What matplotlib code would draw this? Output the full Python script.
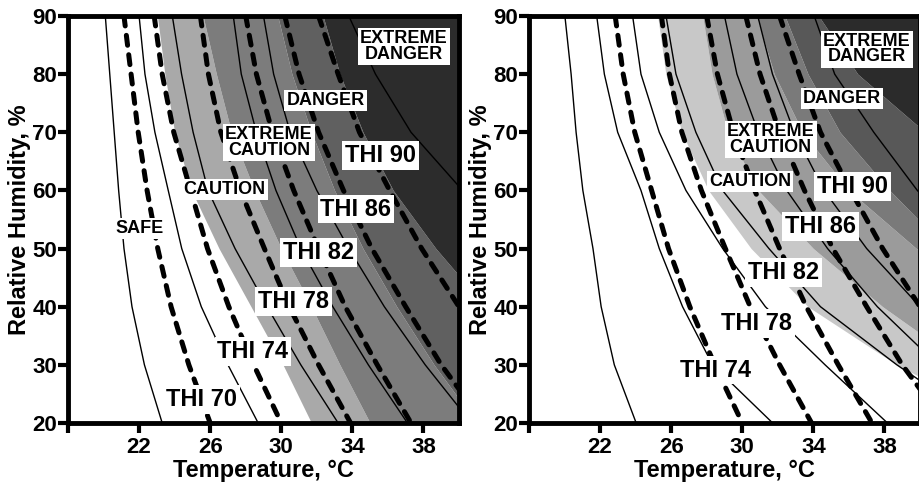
import matplotlib.pyplot as plt

plt.rcParams['font.family'] = ['Liberation Sans', 'DejaVu Sans']
plt.rcParams['font.weight'] = 'bold'

rh = [90, 80, 70, 60, 50, 40, 30, 20]

# THI isolines (dashed): temperature (°C) at each RH level
thi_70 = [21.15, 21.55, 21.95, 22.45, 23.05, 23.8, 24.8, 26.0]
thi_74 = [22.85, 23.3, 23.95, 24.9, 25.85, 27.05, 28.45, 30.0]
thi_78 = [25.45, 25.9, 26.6, 27.7, 29.05, 30.45, 32.1, 33.9]
thi_82 = [28.0, 28.6, 29.5, 30.7, 32.1, 33.6, 35.4, 37.3]
thi_86 = [30.2, 31.0, 32.1, 33.5, 35.1, 37.0, 39.0, 41.4]
thi_90 = [32.1, 33.2, 34.4, 36.1, 37.9, 40.0, 42.3, 45.0]

# left panel: thin solid isolines
left_s1 = [20.1, 20.35, 20.6, 20.85, 21.15, 21.6, 22.3, 23.3]
left_s2 = [22.0, 22.33, 22.89, 23.64, 24.4, 25.5, 27.0, 28.7]
left_s3 = [23.87, 24.39, 25.04, 25.88, 27.4, 29.2, 31.1, 33.2]
left_s4 = [27.3, 27.75, 28.6, 29.7, 31.1, 32.9, 34.9, 37.1]
left_s5 = [29.0, 29.57, 30.5, 32.0, 33.8, 35.8, 38.1, 40.7]
left_s6 = [33.8, 35.3, 37.3, 40.2, 43.0, 46.5, 50.0, 54.0]

# left panel: shaded zone borders
left_b1 = [23.03, 23.45, 24.0, 24.95, 26.5, 28.3, 30.1, 31.7]
left_b2 = [25.6, 26.35, 27.2, 28.5, 30.0, 31.7, 33.3, 35.0]
left_b3 = [29.8, 30.6, 31.7, 33.0, 34.6, 36.5, 38.6, 41.0]
left_b4 = [32.35, 33.3, 34.6, 36.3, 38.7, 41.5, 44.5, 48.0]

# right panel: thin solid isolines
right_s1 = [20.02, 20.37, 20.65, 21.03, 21.6, 22.06, 22.8, 24.03]
right_s2 = [21.81, 22.24, 22.99, 24.3, 25.33, 26.64, 28.33, 31.71]
right_s3 = [23.83, 24.3, 25.33, 26.83, 28.9, 31.3, 34.66, 38.17]
right_s4 = [25.71, 26.27, 27.39, 28.89, 31.5, 34.4, 38.7, 43.5]
right_s5 = [29.0, 29.7, 30.9, 32.5, 34.8, 37.6, 41.0, 45.0]
right_s6 = [30.87, 31.7, 32.93, 34.6, 37.0, 40.0, 43.5, 48.0]
right_s7 = [34.05, 35.2, 37.4, 39.85, 43.0, 47.0, 52.0, 57.0]

# right panel: shaded zone borders
right_b1 = [25.24, 25.7, 26.6, 28.1, 30.5, 33.7, 38.7, 45.0]
right_b2 = [27.77, 28.3, 29.2, 30.9, 34.0, 37.9, 42.5, 48.0]
right_b3 = [30.8, 31.8, 33.4, 36.0, 39.8, 44.5, 50.0, 56.0]
right_b4 = [32.4, 33.7, 35.5, 38.3, 41.5, 45.5, 50.5, 57.0]
right_b5 = [34.3, 36.5, 40.3, 44.5, 50.0, 56.0, 62.0, 68.0]

# text labels: (text, T, RH, size)
left_labels = [
    ('EXTREME\nDANGER', 36.9, 84.7, 13), ('DANGER', 32.5, 75.5, 13),
    ('EXTREME\nCAUTION', 29.3, 68.3, 13), ('CAUTION', 26.8, 60.2, 13),
    ('SAFE', 22.0, 53.5, 13),
    ('THI 90', 35.6, 66.0, 17), ('THI 86', 34.2, 56.8, 17),
    ('THI 82', 32.1, 49.3, 17), ('THI 78', 30.7, 40.9, 17),
    ('THI 74', 28.4, 32.3, 17), ('THI 70', 25.5, 24.0, 17),
]
right_labels = [
    ('EXTREME\nDANGER', 37.0, 84.3, 13), ('DANGER', 35.6, 75.8, 13),
    ('EXTREME\nCAUTION', 31.6, 68.7, 13), ('CAUTION', 30.45, 61.5, 13),
    ('THI 90', 36.2, 60.7, 17), ('THI 86', 34.4, 53.8, 17),
    ('THI 82', 32.3, 45.9, 17), ('THI 78', 30.8, 37.1, 17),
    ('THI 74', 28.5, 29.1, 17),
]

fig = plt.figure(figsize=(9.19, 4.86), dpi=100)
ax1 = fig.add_axes([68 / 919, 63 / 486, 391 / 919, 407 / 486])
ax2 = fig.add_axes([529 / 919, 63 / 486, 391 / 919, 407 / 486])


def draw_panel(ax, borders, greys, solids, dashed, labels):
    # shaded zones, left to right
    edges = [[10] * len(rh)] + borders + [[80] * len(rh)]
    for i, g in enumerate(greys):
        ax.fill_betweenx(rh, edges[i], edges[i + 1], color=g, lw=0, zorder=0)
    for s in solids:
        ax.plot(s, rh, color='black', lw=1.0, zorder=2)
    for d in dashed:
        ax.plot(d, rh, color='black', lw=3.6, dashes=(2.0, 1.9),
                dash_capstyle='round', zorder=3)
    for txt, x, y, size in labels:
        ax.text(x, y, txt, ha='center', va='center', fontsize=size,
                fontweight='bold', linespacing=0.9, zorder=5,
                bbox=dict(boxstyle='square,pad=0.12', fc='white', ec='none'))

    ax.set_xlim(18, 40)
    ax.set_ylim(20, 90)
    ax.set_xticks([18, 22, 26, 30, 34, 38])
    ax.set_xticklabels(['', '22', '26', '30', '34', '38'])
    ax.set_yticks([20, 30, 40, 50, 60, 70, 80, 90])
    ax.tick_params(direction='out', length=7, width=3, labelsize=16)
    ax.tick_params(axis='x', pad=3)
    ax.tick_params(axis='y', pad=1)
    for lab in ax.get_xticklabels() + ax.get_yticklabels():
        lab.set_fontweight('bold')
    for sp in ax.spines.values():
        sp.set_linewidth(3.5)
        sp.set_zorder(6)
    ax.set_xlabel('Temperature, °C', fontsize=17, fontweight='bold', labelpad=1)
    ax.set_ylabel('Relative Humidity, %', fontsize=17, fontweight='bold')
    ax.yaxis.set_label_coords(-0.094, 0.5)


draw_panel(ax1, [left_b1, left_b2, left_b3, left_b4],
           ['white', '#a9a9a9', '#7c7c7c', '#606060', '#2c2c2c'],
           [left_s1, left_s2, left_s3, left_s4, left_s5, left_s6],
           [thi_70, thi_74, thi_78, thi_82, thi_86, thi_90], left_labels)

draw_panel(ax2, [right_b1, right_b2, right_b3, right_b4, right_b5],
           ['white', '#c8c8c8', '#9b9b9b', '#7a7a7a', '#585858', '#2b2b2b'],
           [right_s1, right_s2, right_s3, right_s4, right_s5, right_s6, right_s7],
           [thi_74, thi_78, thi_82, thi_86, thi_90], right_labels)

fig.savefig('out.png', dpi=100)
